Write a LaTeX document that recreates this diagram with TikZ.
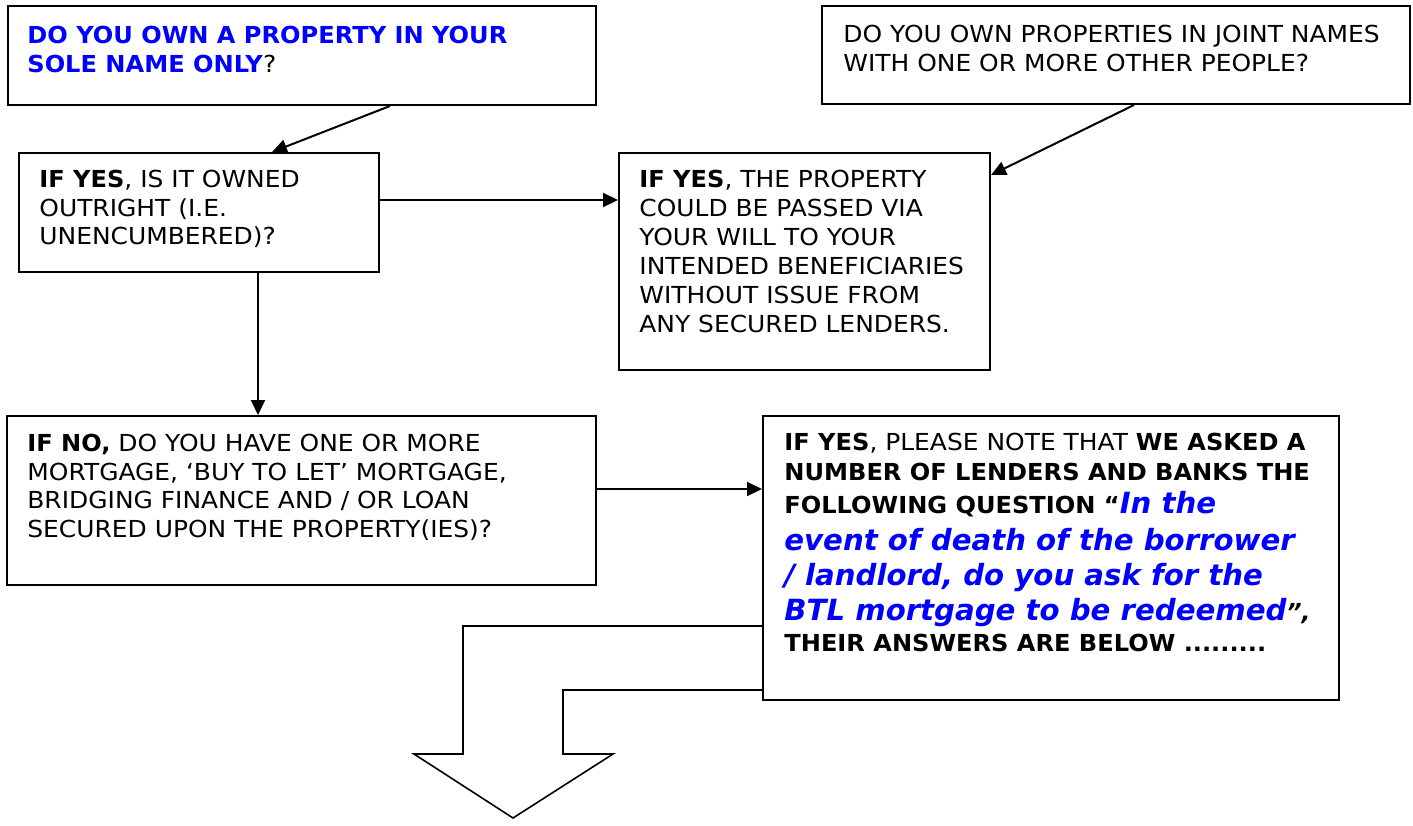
\documentclass[tikz,border=0pt]{standalone}
\usepackage{fontspec}
\setmainfont{DejaVu Sans}[UprightFeatures={FakeStretch=1.065}, BoldFeatures={FakeStretch=1.03}]
\usepackage{xcolor}
\usetikzlibrary{arrows.meta}

\newcommand{\qfont}{\color{blue}\bfseries\itshape\fontsize{14.6pt}{18pt}\selectfont}

\begin{document}
\begin{tikzpicture}[x=0.5pt, y=-0.5pt,
  box/.style={draw=black, line width=1pt, fill=white, anchor=north west, inner sep=0pt},
  txt/.style={anchor=north west, inner sep=0pt, align=left,
    font={\fontsize{11.7pt}{14.3pt}\selectfont\lineskiplimit=-30pt\lineskip=0pt}},
  link/.style={line width=1pt, -{Triangle[length=7.5pt, width=7pt]}},
  bigarrow/.style={line width=0.8pt, line join=miter}]
  \useasboundingbox (0,0) rectangle (1413,825);

  % boxes
  \node[box, minimum width=294pt, minimum height=49.5pt] (ownsole) at (7,5) {};
  \node[box, minimum width=180pt, minimum height=59.5pt] (outright) at (18,152) {};
  \node[box, minimum width=294pt, minimum height=49pt] (joint) at (821,5) {};
  \node[box, minimum width=185.5pt, minimum height=108.5pt] (passed) at (618,152) {};
  \node[box, minimum width=294.5pt, minimum height=84.5pt] (ifno) at (6,415) {};

  % big bent arrow out of the last box
  \draw[bigarrow] (762,626) -- (463,626) -- (463,754) -- (414,754) -- (513,818)
    -- (613,754) -- (563,754) -- (563,690) -- (762,690);
  \node[box, minimum width=288pt, minimum height=142pt] (note) at (762,415) {};

  % texts
  \node[txt] (ownsoletxt) at (27,26) {\textcolor{blue}{\textbf{DO YOU OWN A PROPERTY IN YOUR}}\\
    \textcolor{blue}{\textbf{SOLE NAME ONLY}}?};
  \node[txt] (outrighttxt) at (39,170) {\textbf{IF YES}, IS IT OWNED\\
    OUTRIGHT (I.E.\\ UNENCUMBERED)?};
  \node[txt] (jointtxt) at (843,25) {DO YOU OWN PROPERTIES IN JOINT NAMES\\
    WITH ONE OR MORE OTHER PEOPLE?};
  \node[txt] (passedtxt) at (639,170) {\textbf{IF YES}, THE PROPERTY\\[0.2pt]
    COULD BE PASSED VIA\\[0.2pt] YOUR WILL TO YOUR\\[0.2pt] INTENDED BENEFICIARIES\\[0.2pt]
    WITHOUT ISSUE FROM\\[0.2pt] ANY SECURED LENDERS.};
  \node[txt] (ifnotxt) at (27,434) {\textbf{IF NO,} DO YOU HAVE ONE OR MORE\\
    MORTGAGE, ‘BUY TO LET’ MORTGAGE,\\ BRIDGING FINANCE AND / OR LOAN\\
    SECURED UPON THE PROPERTY(IES)?};
  \node[txt] (notetxt) at (784,433) {\textbf{IF YES}, PLEASE NOTE THAT \textbf{WE ASKED A}\\[0.7pt]
    \textbf{NUMBER OF LENDERS AND BANKS THE}\\[2.2pt]
    \textbf{FOLLOWING QUESTION “}{\qfont In the}\\[4.2pt]
    {\qfont event of death of the borrower}\\[3.2pt]
    {\qfont / landlord, do you ask for the}\\[3.2pt]
    {\qfont BTL mortgage to be redeemed}\textbf{\itshape ”,}\\[1.2pt]
    \textbf{THEIR ANSWERS ARE BELOW .........}};

  % connectors
  \draw[link] (ownsole.south -| 390,0) -- (outright.north -| 272,0);
  \draw[link] (joint.south -| 1134,0) -- (passed.east |- 0,175);
  \draw[link] (outright.east |- 0,200) -- (passed.west |- 0,200);
  \draw[link] (outright.south -| 258,0) -- (ifno.north -| 258,0);
  \draw[link] (ifno.east |- 0,489) -- (note.west |- 0,489);
\end{tikzpicture}
\end{document}
